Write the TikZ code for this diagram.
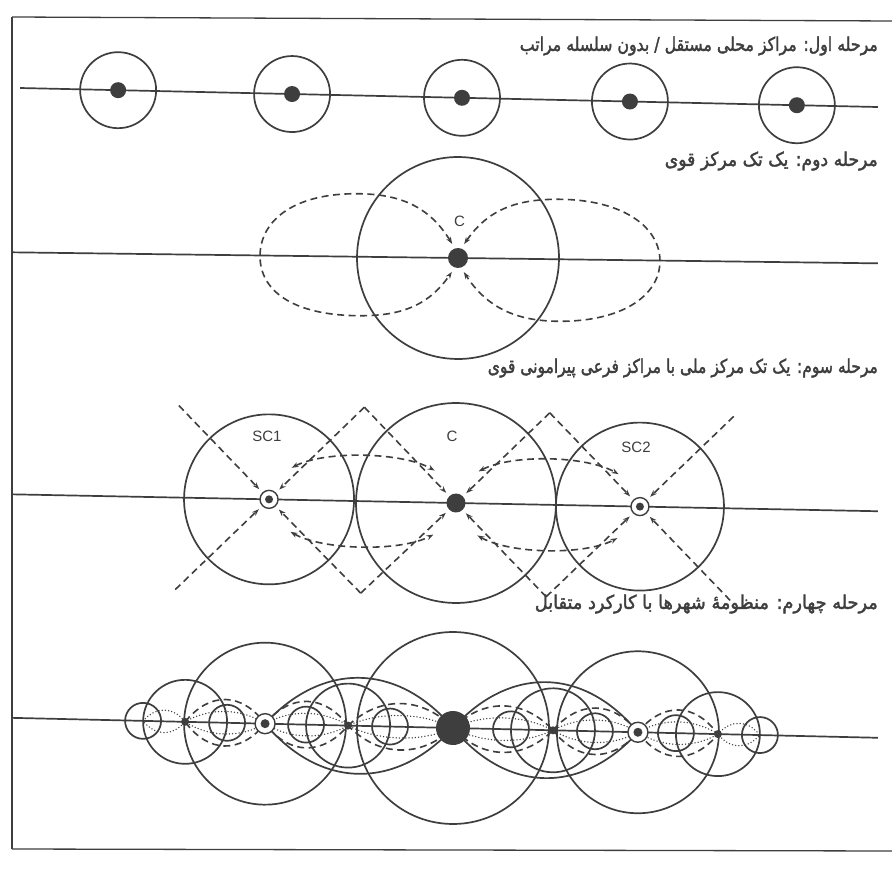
\documentclass[tikz,border=0pt]{standalone}
\usepackage{fontspec}
\usepackage{graphicx}
\usetikzlibrary{arrows.meta,calc}
\TeXXeTstate=1
\newfontfamily\arabicfont[Script=Arabic,FakeBold=2]{DejaVu Sans}
\newfontfamily\labelfont{Liberation Sans}
\definecolor{ink}{RGB}{62,62,62}
\begin{document}
\begin{tikzpicture}[x=1pt,y=-1pt,
  >={Stealth[length=7pt,width=5pt]},
  sline/.style={draw=ink,line width=1.7pt},
  dline/.style={draw=ink,line width=1.6pt,dash pattern=on 7pt off 4.5pt},
  oline/.style={draw=ink,line width=1.5pt,line cap=round,dash pattern=on 0pt off 3.2pt},
  frameline/.style={draw=ink,line width=1.3pt},
  axisline/.style={draw=ink,line width=1.7pt},
  blob/.style={fill=ink},
  ttl/.style={anchor=east,inner sep=0pt,text=ink},
  lbl/.style={inner sep=0pt,text=ink,font=\labelfont\fontsize{15}{15}\selectfont}
]
\useasboundingbox (0,0) rectangle (892,869);
\fill[white] (0,0) rectangle (892,869);

% frame
\coordinate (ftl) at (12,17);
\coordinate (ftr) at (892,21);
\coordinate (fbl) at (12,849);
\coordinate (fbr) at (892,851);
\draw[frameline] (ftl) -- (ftr);
\draw[frameline] (ftl) -- (fbl);
\draw[frameline] (fbl) -- (fbr);

% titles
\node[ttl] (t1) at (878,46) {\resizebox*{358pt}{19pt}{\arabicfont\beginR مرحله اول: مراکز محلی مستقل / بدون سلسله مراتب\endR}};
\node[ttl] (t2) at (878,161) {\resizebox*{213pt}{19pt}{\arabicfont\beginR مرحله دوم: یک تک مرکز قوی\endR}};
\node[ttl] (t3) at (878,368) {\resizebox*{390pt}{19pt}{\arabicfont\beginR مرحله سوم: یک تک مرکز ملی با مراکز فرعی پیرامونی قوی\endR}};
\node[ttl] (t4) at (878,604) {\resizebox*{343pt}{19pt}{\arabicfont\beginR مرحله چهارم: منظومهٔ شهرها با کارکرد متقابل\endR}};

% ---------------- stage 1
\begin{scope}[shift={(462,97.8)},rotate=-1.27]
  \coordinate (s1L) at (-442,0);
  \coordinate (s1R) at (416,0);
  \draw[axisline] (s1L) -- (s1R);
  \foreach \p [count=\i] in {-344,-170,0,168,335} {
    \coordinate (s1c\i) at (\p,0);
    \draw[sline] (s1c\i) circle[radius=38];
    \fill[blob] (s1c\i) circle[radius=8];
  }
\end{scope}

% ---------------- stage 2
\begin{scope}[shift={(458,258)},rotate=-0.73]
  \coordinate (s2L) at (-446,0);
  \coordinate (s2R) at (420,0);
  \coordinate (s2C) at (0,0);
  \draw[axisline] (s2L) -- (s2R);
  \draw[sline] (s2C) circle[radius=101];
  \draw[dline,<->] (-6,-14) .. controls (-30,-52) and (-60,-63) .. (-100,-63)
     .. controls (-165,-63) and (-198,-35) .. (-198,0)
     .. controls (-198,35) and (-165,59) .. (-100,59)
     .. controls (-60,59) and (-30,50) .. (-6,14);
  \draw[dline,<->] (6,-14) .. controls (30,-50) and (60,-60) .. (102,-60)
     .. controls (165,-60) and (202,-33) .. (202,1)
     .. controls (202,35) and (165,62) .. (100,62)
     .. controls (60,62) and (30,50) .. (6,14);
  \fill[blob] (s2C) circle[radius=10];
  \node[lbl] (s2lab) at (1,-37) {C};
\end{scope}

% ---------------- stage 3
\begin{scope}[shift={(456,503)},rotate=-1.12]
  \coordinate (s3L) at (-444,0);
  \coordinate (s3R) at (422,0);
  \coordinate (s3A) at (-187,0);
  \coordinate (s3C) at (0,0);
  \coordinate (s3B) at (184,0);
  \draw[axisline] (s3L) -- (s3R);
  \draw[sline] (s3A) circle[radius=85];
  \draw[sline] (s3C) circle[radius=100];
  \draw[sline] (s3B) circle[radius=84];
  \coordinate (s3TL) at (-279,-92);
  \coordinate (s3BL) at (-279,92);
  \coordinate (s3T1) at (-93.5,-94);
  \coordinate (s3B1) at (-93.5,92);
  \coordinate (s3T2) at (92,-92);
  \coordinate (s3B2) at (92,92);
  \coordinate (s3TR) at (276,-92);
  \coordinate (s3BR) at (276,92);
  \draw[dline,->] (s3TL) -- ($(s3A)+(-10,-10)$);
  \draw[dline,->] (s3BL) -- ($(s3A)+(-10,10)$);
  \draw[dline,->] (s3T1) -- ($(s3A)+(10,-10)$);
  \draw[dline,->] (s3B1) -- ($(s3A)+(10,10)$);
  \draw[dline,->] (s3T1) -- ($(s3C)+(-10,-10)$);
  \draw[dline,->] (s3B1) -- ($(s3C)+(-10,10)$);
  \draw[dline,->] (s3T2) -- ($(s3C)+(10,-10)$);
  \draw[dline,->] (s3B2) -- ($(s3C)+(10,10)$);
  \draw[dline,->] (s3T2) -- ($(s3B)+(-10,-10)$);
  \draw[dline,->] (s3B2) -- ($(s3B)+(-10,10)$);
  \draw[dline,->] (s3TR) -- ($(s3B)+(10,-10)$);
  \draw[dline,->] (s3BR) -- ($(s3B)+(10,10)$);
  \draw[dline,<->] ($(s3A)+(22,-32)$) .. controls ($(s3A)+(55,-50)$) and ($(s3C)+(-55,-50)$) .. ($(s3C)+(-22,-32)$);
  \draw[dline,<->] ($(s3A)+(22,32)$) .. controls ($(s3A)+(55,50)$) and ($(s3C)+(-55,50)$) .. ($(s3C)+(-22,32)$);
  \draw[dline,<->] ($(s3C)+(22,-32)$) .. controls ($(s3C)+(55,-50)$) and ($(s3B)+(-55,-50)$) .. ($(s3B)+(-22,-32)$);
  \draw[dline,<->] ($(s3C)+(22,32)$) .. controls ($(s3C)+(55,50)$) and ($(s3B)+(-55,50)$) .. ($(s3B)+(-22,32)$);
  \filldraw[fill=white,draw=ink,line width=1.4pt] (s3A) circle[radius=9];
  \fill[blob] (s3A) circle[radius=4];
  \filldraw[fill=white,draw=ink,line width=1.4pt] (s3B) circle[radius=9];
  \fill[blob] (s3B) circle[radius=4];
  \fill[blob] (s3C) circle[radius=9.5];
\end{scope}
\node[lbl] (s3labA) at (267,436) {SC1};
\node[lbl] (s3labC) at (452,436) {C};
\node[lbl] (s3labB) at (636,447) {SC2};

% ---------------- stage 4
\begin{scope}[shift={(453,728)},rotate=-1.32]
  \coordinate (s4L) at (-441,0);
  \coordinate (s4R) at (425,0);
  \coordinate (s4C) at (0,0);
  \coordinate (s4A) at (-188,0);
  \coordinate (s4B) at (185,0);
  \draw[axisline] (s4L) -- (s4R);
  \draw[sline] (s4C) circle[radius=96];
  \draw[sline] (s4A) circle[radius=81];
  \draw[sline] (s4B) circle[radius=81];
  \foreach \p in {-268,-105,100,265} {
    \draw[sline] (\p,0) circle[radius=42];
  }
  \foreach \p in {-310,-226,-147,-63,58,142,223,307} {
    \draw[sline] (\p,0) circle[radius=18];
  }
  \foreach \a/\b in {-188/0,0/185} {
    \pgfmathsetmacro\ca{\a+0.3*(\b-\a)}
    \pgfmathsetmacro\cb{\a+0.7*(\b-\a)}
    \draw[sline] (\a,0) .. controls (\ca,-64) and (\cb,-64) .. (\b,0)
                 .. controls (\cb,64) and (\ca,64) .. (\a,0);
  }
  \foreach \a/\b in {-268/-188,-188/-105,-105/0,0/100,100/185,185/265} {
    \pgfmathsetmacro\ca{\a+0.3*(\b-\a)}
    \pgfmathsetmacro\cb{\a+0.7*(\b-\a)}
    \draw[dline] (\a,0) .. controls (\ca,-31) and (\cb,-31) .. (\b,0)
                 .. controls (\cb,31) and (\ca,31) .. (\a,0);
  }
  \foreach \a/\b in {-310/-268,-268/-188,-188/-105,-105/0,0/100,100/185,185/265,265/307} {
    \pgfmathsetmacro\ca{\a+0.3*(\b-\a)}
    \pgfmathsetmacro\cb{\a+0.7*(\b-\a)}
    \draw[oline] (\a,0) .. controls (\ca,-15) and (\cb,-15) .. (\b,0)
                 .. controls (\cb,15) and (\ca,15) .. (\a,0);
  }
  \foreach \p in {-268,-105,100,265} {
    \fill[blob] (\p,0) circle[radius=4];
  }
  \filldraw[fill=white,draw=ink,line width=1.4pt] (s4A) circle[radius=10];
  \fill[blob] (s4A) circle[radius=4.5];
  \filldraw[fill=white,draw=ink,line width=1.4pt] (s4B) circle[radius=10];
  \fill[blob] (s4B) circle[radius=4.5];
  \fill[blob] (s4C) circle[radius=17];
\end{scope}
\end{tikzpicture}
\end{document}
